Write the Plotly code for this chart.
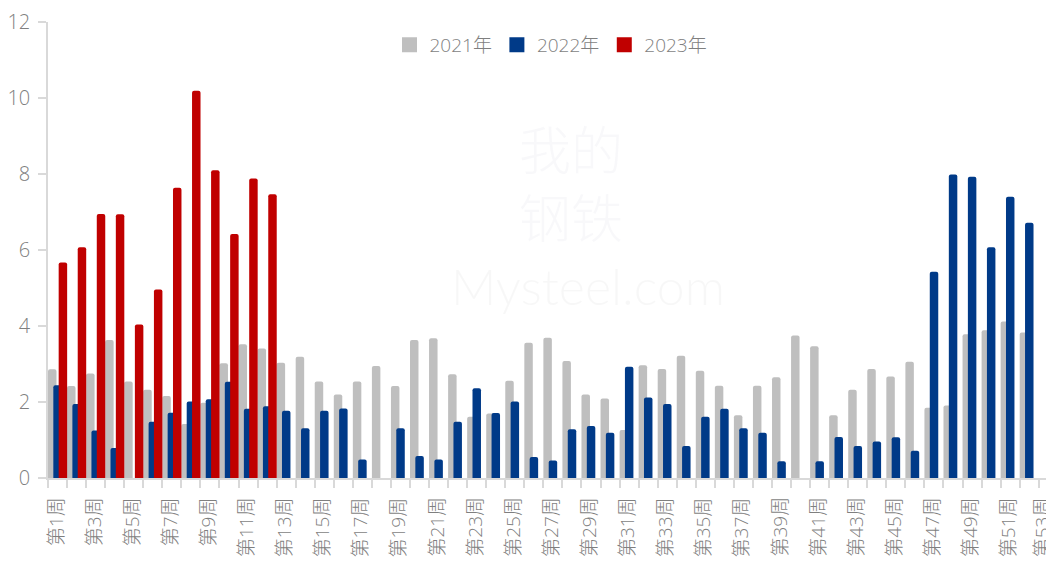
import plotly.graph_objects as go

weeks = [f"第{i}周" for i in range(1, 54)]

y2021 = [2.86, 2.42, 2.75, 3.63, 2.54, 2.32, 2.16, 1.42, 1.98, 3.02,
         3.52, 3.41, 3.03, 3.19, 2.54, 2.20, 2.54, 2.95, 2.42, 3.63,
         3.68, 2.73, 1.61, 1.70, 2.56, 3.56, 3.69, 3.08, 2.20, 2.09,
         1.26, 2.97, 2.87, 3.22, 2.82, 2.43, 1.65, 2.43, 2.65, 3.75,
         3.47, 1.65, 2.32, 2.87, 2.67, 3.06, 1.85, 1.91, 3.78, 3.89,
         4.12, 3.83, None]
y2022 = [2.44, 1.95, 1.25, 0.79, None, 1.48, 1.72, 2.01, 2.07, 2.53,
         1.82, 1.89, 1.77, 1.31, 1.77, 1.83, 0.49, None, 1.31, 0.58,
         0.49, 1.48, 2.36, 1.71, 2.01, 0.55, 0.46, 1.28, 1.37, 1.19,
         2.93, 2.12, 1.95, 0.84, 1.61, 1.82, 1.31, 1.19, 0.44, None,
         0.44, 1.08, 0.84, 0.96, 1.07, 0.72, 5.43, 7.99, 7.93, 6.07,
         7.40, 6.72, None]
y2023 = [5.67, 6.07, 6.95, 6.94, 4.04, 4.96, 7.64, 10.19, 8.10, 6.42,
         7.88, 7.47]

series = [("2021年", y2021, "#BFBFBF", -0.50),
          ("2022年", y2022, "#003A88", -0.22),
          ("2023年", y2023, "#C00000", 0.06)]

pos = list(range(1, len(weeks) + 1))

fig = go.Figure()
for name, vals, color, off in series:
    fig.add_trace(go.Bar(
        x=pos[:len(vals)], y=vals, name=name, showlegend=False,
        marker=dict(color=color, line=dict(width=0), cornerradius=2),
        width=0.445, offset=off,
    ))
# legend entries with larger square swatches
for name, vals, color, off in series:
    fig.add_trace(go.Scatter(
        x=[None], y=[None], name=name, mode="markers",
        marker=dict(symbol="square", size=15, color=color),
    ))

font_family = "Open Sans, Noto Sans CJK SC, sans-serif"

# faint watermark
fig.add_annotation(text="Mysteel.com", x=0.537, y=0.42, xref="paper", yref="paper",
                   showarrow=False, font=dict(size=50, color="rgba(0,0,0,0.03)", family="Lato, sans-serif"))
fig.add_annotation(text="我的<br>钢铁", x=0.52, y=0.65, xref="paper", yref="paper",
                   showarrow=False, font=dict(size=52, color="rgba(120,120,160,0.05)", family="Noto Sans CJK SC"))

# rotated category labels (every second week)
for p, w in zip(pos[::2], weeks[::2]):
    fig.add_annotation(text=w, x=p, y=0, xref="x", yref="paper",
                       xanchor="center", yanchor="top", yshift=-17,
                       xshift=-2 if p < pos[-1] else -6,
                       textangle=-90, showarrow=False,
                       font=dict(size=19, color="#7F7F7F", family=font_family, weight=300))

# page body has an 8px default margin: offset figure so plot area lands at (48, 22)
fig.update_layout(
    width=1046, height=553,
    margin=dict(l=40, r=0, t=14, b=83, autoexpand=False),
    barmode="overlay",
    plot_bgcolor="white", paper_bgcolor="white",
    font=dict(family=font_family, color="#7F7F7F", weight=300),
    legend=dict(orientation="h", x=0.5, xanchor="center", y=0.95, yanchor="middle",
                font=dict(size=19, color="#7F7F7F", weight=300), itemwidth=30,
                tracegroupgap=0, traceorder="normal", bgcolor="rgba(0,0,0,0)"),
    showlegend=True,
)
fig.update_xaxes(
    type="linear", range=[0.5, 53.3],
    tickmode="array", tickvals=pos[::2], showticklabels=False,
    ticks="",
    minor=dict(tickmode="array", tickvals=[p - 0.5 for p in pos] + [pos[-1] + 0.5],
               ticks="outside", ticklen=8, tickcolor="#D9D9D9", tickwidth=1.5, showgrid=False),
    showline=True, linecolor="#D9D9D9", linewidth=1.5,
    showgrid=False, zeroline=False, automargin=False,
)
fig.update_yaxes(
    range=[0, 12], dtick=2, tick0=0,
    ticks="outside", ticklen=8, tickcolor="#D9D9D9", tickwidth=1.5,
    tickfont=dict(size=20, color="#7F7F7F", weight=300), ticklabelstandoff=4,
    showline=True, linecolor="#D9D9D9", linewidth=1.5,
    showgrid=False, zeroline=False, automargin=False,
)

fig.write_html("out.html")
